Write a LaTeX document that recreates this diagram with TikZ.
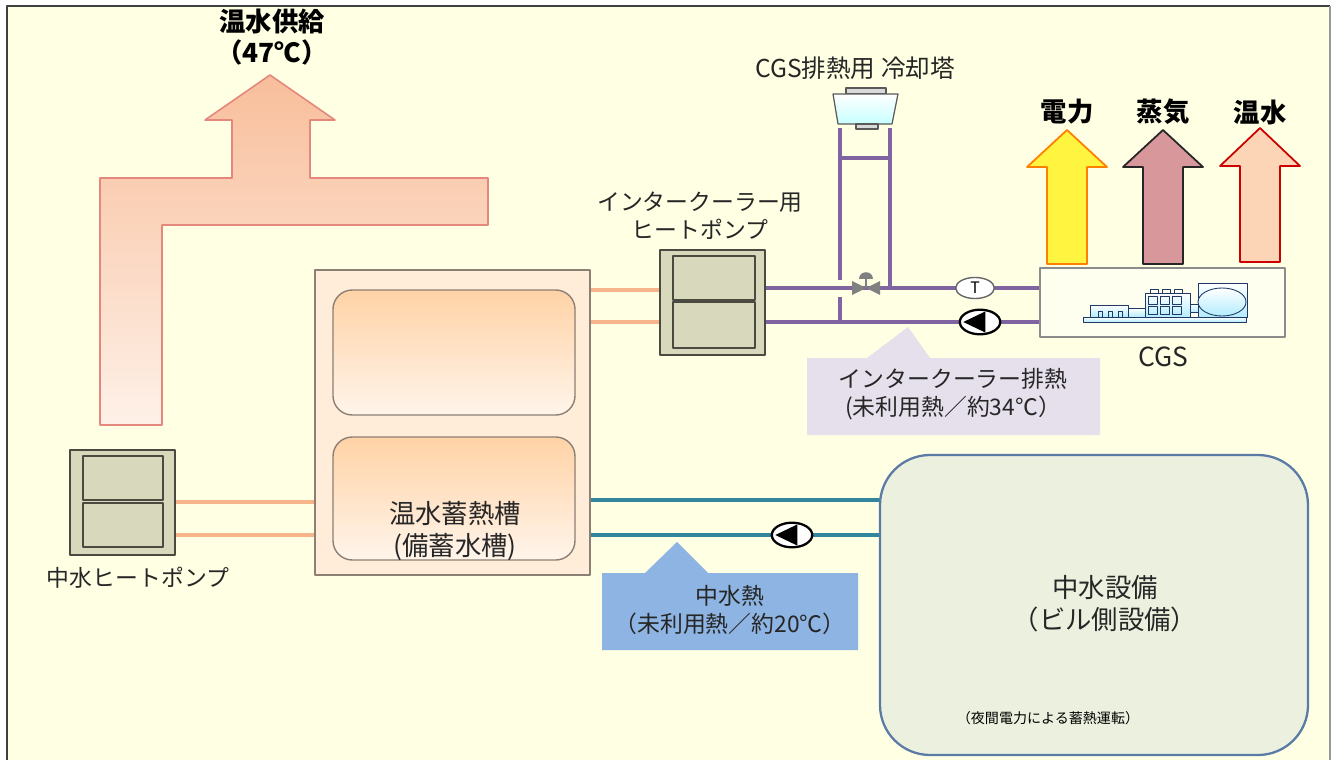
\documentclass[tikz,border=0pt]{standalone}
\usepackage{fontspec}
\setmainfont{Noto Sans CJK JP}
\usetikzlibrary{shapes.geometric}

\definecolor{paper}{HTML}{FFFFE4}
\definecolor{pipeorange}{HTML}{F6B48A}
\definecolor{pipepurple}{HTML}{8064A2}
\definecolor{pipeteal}{HTML}{31859C}
\definecolor{hpfill}{HTML}{D8D8BC}
\definecolor{hpedge}{HTML}{4A4A40}
\definecolor{tankedge}{HTML}{8C7F73}
\definecolor{engine}{HTML}{1F3864}
\definecolor{supplytop}{HTML}{F8BE9B}
\definecolor{supplybot}{HTML}{FEF1E8}
\definecolor{supplyedge}{HTML}{E4877C}
\definecolor{steam}{HTML}{D8979A}
\definecolor{hotwater}{HTML}{FBD5B5}
\definecolor{icnote}{HTML}{E5E0EC}
\definecolor{graynote}{HTML}{8DB4E2}
\definecolor{bldgfill}{HTML}{EBF1DE}
\definecolor{bldgedge}{HTML}{5B7BA6}

\begin{document}
\begin{tikzpicture}[
        x = 0.02cm, y = -0.02cm,
        line join=round,
        pipeo/.style = {draw=pipeorange, line width=1.8pt},
        pipep/.style = {draw=pipepurple, line width=1.8pt},
        pipet/.style = {draw=pipeteal, line width=1.8pt},
        hpbox/.style = {draw=hpedge, fill=hpfill, line width=1pt},
        tankbox/.style = {draw=tankedge, line width=0.8pt, rounded corners=11pt,
            top color=orange!35!white, bottom color=orange!8!white},
        part/.style = {draw=engine, line width=0.5pt, top color=white, bottom color=blue!25!cyan!30!white},
        txt/.style = {font=\fontsize{13}{16}\selectfont, align=center, text=black!85},
        bigtxt/.style = {font=\fontsize{15}{18}\selectfont, align=center, text=black!85},
        headtxt/.style = {font=\fontsize{15}{18}\selectfont\bfseries, align=center},
        pump/.style = {ellipse, draw=black, fill=white, line width=1.3pt,
            minimum width=23pt, minimum height=14pt, inner sep=0pt,
            path picture={\fill[black] ([xshift=-9.5pt]path picture bounding box.center)
                -- ([xshift=3pt,yshift=6pt]path picture bounding box.center)
                -- ([xshift=3pt,yshift=-6pt]path picture bounding box.center) -- cycle;}}
    ]

    \useasboundingbox (0,0) rectangle (1338,760);
    \fill[white] (0,0) rectangle (1338,760);
    \fill[paper] (7,6) rectangle (1330,760);
    \draw[black!75, line width=1.6pt] (7,760) -- (7,6) -- (1330,6);
    \draw[black!40, line width=0.6pt] (1330,6) -- (1330,760);

    % warm water supply arrow
    \draw[draw=supplyedge, line width=0.9pt, top color=supplytop, bottom color=supplybot]
        (100,425) -- (100,178) -- (232,178) -- (232,120) -- (205,120) -- (270,75)
        -- (335,120) -- (310,120) -- (310,178) -- (488,178) -- (488,225)
        -- (162,225) -- (162,425) -- cycle;
    \node[headtxt] (lblSupply) at (272,22) {温水供給};
    \node[headtxt] (lblSupplyT) at (272,52) {（47℃）};

    % pipes
    \coordinate (hpLa) at (175,502);
    \coordinate (hpLb) at (175,535);
    \coordinate (tkLa) at (315,502);
    \coordinate (tkLb) at (315,535);
    \coordinate (tkRa) at (590,290);
    \coordinate (tkRb) at (590,322);
    \coordinate (hpMa) at (660,290);
    \coordinate (hpMb) at (660,322);
    \coordinate (hpMc) at (765,288);
    \coordinate (hpMd) at (765,322);
    \coordinate (cgsA) at (1040,288);
    \coordinate (cgsB) at (1040,322);
    \coordinate (tkWa) at (590,500);
    \coordinate (tkWb) at (590,535);
    \coordinate (grA) at (880,500);
    \coordinate (grB) at (880,535);

    \draw[pipeo] (hpLa) -- (tkLa);
    \draw[pipeo] (hpLb) -- (tkLb);
    \draw[pipeo] (tkRa) -- (hpMa);
    \draw[pipeo] (tkRb) -- (hpMb);
    \draw[pipep] (hpMc) -- (cgsA);
    \draw[pipep] (hpMd) -- (cgsB);
    \draw[pipet] (tkWa) -- (grA);
    \draw[pipet] (tkWb) -- (grB);

    % cooling tower loop
    \draw[pipep] (840,128) -- (840,280);
    \draw[pipep] (840,297) -- (840,322);
    \draw[pipep] (890,128) -- (890,288);
    \draw[pipep] (840,158) -- (890,158);
    \draw[black!65, fill=black!15, line width=0.7pt] (846,88) rectangle (886,94);
    \draw[black!65, line width=0.7pt, top color=white, bottom color=cyan!22!white]
        (833,94) -- (898,94) -- (892,124) -- (838,124) -- cycle;
    \draw[black!65, fill=black!15, line width=0.7pt] (856,124) rectangle (878,129);
    \node[txt, font=\fontsize{14}{17}\selectfont] (lblTower) at (855,68) {CGS排熱用 冷却塔};

    % valve
    \fill[black!50] (852,281) -- (852,295) -- (866,288) -- cycle;
    \fill[black!50] (880,281) -- (880,295) -- (866,288) -- cycle;
    \draw[black!50, line width=1.2pt] (866,288) -- (866,278);
    \fill[black!50] (859,279) .. controls (859,270) and (873,270) .. (873,279) -- cycle;

    \node[ellipse, draw=black!60, fill=white, line width=0.8pt, minimum width=22pt,
        minimum height=12pt, inner sep=0pt, font=\fontsize{9}{10}\selectfont] (tsens) at (975,288) {T};
    \node[pump] (pmpCgs) at (980,322) {};
    \node[pump] (pmpGray) at (792,535) {};

    % heat pumps
    \draw[hpbox] (70,450) rectangle (175,555);
    \draw[hpbox] (83,456) rectangle (163,500);
    \draw[hpbox] (83,503) rectangle (163,547);
    \node[txt] (lblHpL) at (138,578) {中水ヒートポンプ};

    \draw[hpbox] (660,250) rectangle (765,355);
    \draw[hpbox] (673,256) rectangle (755,300);
    \draw[hpbox] (673,302) rectangle (755,348);
    \node[txt] (lblHpM) at (700,216) {インタークーラー用\\ヒートポンプ};

    % storage tank
    \draw[tankedge, line width=0.8pt, fill=orange!15!white] (315,270) rectangle (590,575);
    \draw[tankbox] (333,290) rectangle (575,415);
    \draw[tankbox] (333,437) rectangle (575,560);
    \node[bigtxt] (lblTank) at (455,531) {温水蓄熱槽\\(備蓄水槽)};

    % CGS
    \draw[black!45, fill=paper!60!white, line width=0.8pt] (1040,268) rectangle (1285,337);
    \draw[part] (1083,317) rectangle (1246,322);
    \draw[part] (1090,305) rectangle (1128,317);
    \foreach \px in {1098,1108,1118}
        \draw[engine, line width=0.5pt] (\px,317) -- (\px,311) -- (\px+4,311) -- (\px+4,317);
    \draw[part] (1128,308) rectangle (1145,317);
    \draw[part] (1145,293) rectangle (1190,317);
    \foreach \px in {1148,1160,1172}
        \foreach \py in {296,306}
            \draw[engine, line width=0.5pt] (\px,\py) rectangle (\px+9,\py+8);
    \foreach \px in {1154,1166,1178}
        \draw[engine, line width=0.5pt] (\px-4,293) -- (\px-4,289) -- (\px+4,289) -- (\px+4,293);
    \draw[part] (1190,304) rectangle (1198,312);
    \draw[part] (1198,283) rectangle (1247,317);
    \draw[part] (1222,302) ellipse (24 and 14);
    \node[bigtxt] (lblCgs) at (1163,357) {CGS};

    % outputs of the CGS
    \draw[draw=orange, line width=1pt, fill=yellow!75]
        (1047,264) -- (1047,167) -- (1027,167) -- (1067,130) -- (1107,167)
        -- (1087,167) -- (1087,264) -- cycle;
    \draw[draw=black!85, line width=1pt, fill=steam]
        (1143,264) -- (1143,167) -- (1123,167) -- (1163,130) -- (1203,167)
        -- (1183,167) -- (1183,264) -- cycle;
    \draw[draw=red!80!black, line width=1pt, fill=hotwater]
        (1240,262) -- (1240,166) -- (1220,166) -- (1260,128) -- (1300,166)
        -- (1280,166) -- (1280,262) -- cycle;
    \node[headtxt] (lblPower) at (1067,112) {電力};
    \node[headtxt] (lblSteam) at (1163,112) {蒸気};
    \node[headtxt] (lblHot) at (1260,112) {温水};

    % callouts
    \fill[icnote] (807,358) -- (867,358) -- (908,327) -- (930,358) -- (1100,358)
        -- (1100,435) -- (807,435) -- cycle;
    \node[txt] (lblIc) at (953,394) {インタークーラー排熱\\(未利用熱／約34℃）};

    \fill[graynote] (602,573) -- (645,573) -- (677,542) -- (708,573) -- (858,573)
        -- (858,650) -- (602,650) -- cycle;
    \node[txt] (lblGray) at (730,610) {中水熱\\（未利用熱／約20℃）};

    % building side equipment
    \draw[draw=bldgedge, line width=1.3pt, fill=bldgfill, rounded corners=1cm]
        (880,455) rectangle (1308,755);
    \node[bigtxt] (lblBldg) at (1105,604) {中水設備\\（ビル側設備）};
    \node[font=\fontsize{8}{10}\selectfont] (lblNight) at (1048,718) {（夜間電力による蓄熱運転）};

\end{tikzpicture}
\end{document}
